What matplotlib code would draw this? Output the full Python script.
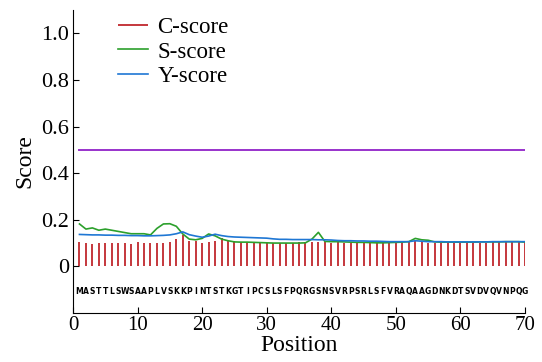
import matplotlib
matplotlib.use("Agg")
import matplotlib.pyplot as plt
import numpy as np

plt.rcParams['font.family'] = ['Liberation Serif', 'DejaVu Serif']

seq = "MASTTLSWSAAPLVSKKPINTSTKGTIPCSLSFPQRGSNSVRPSRLSFVRAQAAGDNKDTSVDVQVNPQG"
pos = np.arange(1, len(seq) + 1)

c_score = [0.105, 0.100, 0.098, 0.100, 0.102, 0.102, 0.102, 0.102, 0.098, 0.103,
           0.100, 0.102, 0.100, 0.102, 0.105, 0.117, 0.135, 0.110, 0.108, 0.100,
           0.105, 0.110, 0.120, 0.110, 0.108, 0.105, 0.105, 0.103, 0.102, 0.102,
           0.100, 0.100, 0.102, 0.102, 0.103, 0.103, 0.105, 0.105, 0.105, 0.102,
           0.105, 0.102, 0.100, 0.100, 0.102, 0.100, 0.100, 0.102, 0.102, 0.102,
           0.105, 0.108, 0.110, 0.105, 0.102, 0.102, 0.102, 0.103, 0.102, 0.102,
           0.103, 0.102, 0.102, 0.102, 0.103, 0.103, 0.103, 0.105, 0.103, 0.103]

s_score = [0.182, 0.160, 0.165, 0.155, 0.160, 0.155, 0.150, 0.145, 0.140, 0.140,
           0.140, 0.135, 0.163, 0.182, 0.183, 0.172, 0.139, 0.117, 0.114, 0.120,
           0.139, 0.131, 0.117, 0.110, 0.105, 0.104, 0.104, 0.103, 0.102, 0.101,
           0.100, 0.100, 0.100, 0.100, 0.100, 0.101, 0.117, 0.146, 0.107, 0.106,
           0.106, 0.105, 0.104, 0.103, 0.103, 0.102, 0.101, 0.101, 0.102, 0.103,
           0.104, 0.106, 0.120, 0.114, 0.112, 0.105, 0.104, 0.104, 0.104, 0.104,
           0.104, 0.104, 0.105, 0.105, 0.105, 0.105, 0.106, 0.106, 0.106, 0.104]

y_score = [0.137, 0.136, 0.135, 0.135, 0.134, 0.134, 0.133, 0.133, 0.132, 0.132,
           0.131, 0.131, 0.132, 0.133, 0.135, 0.140, 0.148, 0.136, 0.130, 0.125,
           0.130, 0.138, 0.132, 0.128, 0.126, 0.125, 0.124, 0.123, 0.122, 0.121,
           0.118, 0.116, 0.116, 0.115, 0.115, 0.115, 0.115, 0.114, 0.114, 0.113,
           0.111, 0.110, 0.110, 0.109, 0.109, 0.108, 0.108, 0.107, 0.106, 0.106,
           0.106, 0.106, 0.110, 0.108, 0.106, 0.106, 0.106, 0.105, 0.105, 0.105,
           0.105, 0.105, 0.105, 0.105, 0.106, 0.106, 0.106, 0.106, 0.106, 0.106]

cutoff = 0.5

fig = plt.figure(figsize=(5.42, 3.62), dpi=100)
ax = fig.add_axes([0.1347, 0.1354, 0.834, 0.837])

ax.vlines(pos, 0, c_score, color='#c0282d', lw=1.3, label='C-score')
ax.plot(pos, s_score, color='#2ca02c', lw=1.2, label='S-score')
ax.plot(pos, y_score, color='#1f77d4', lw=1.2, label='Y-score')
ax.plot([pos[0], pos[-1]], [cutoff, cutoff], color='#9932cc', lw=1.4)

for p, aa in zip(pos, seq):
    ax.text(p, -0.108, aa, ha='center', va='center', fontsize=5.5,
            fontweight='bold', family='DejaVu Sans')

ax.set_xlim(0, 70)
ax.set_ylim(-0.2, 1.1)
ax.set_yticks([0, 0.2, 0.4, 0.6, 0.8, 1.0])
ax.set_yticklabels(['0', '0.2', '0.4', '0.6', '0.8', '1.0'])
ax.set_xticks(range(0, 71, 10))
ax.tick_params(direction='in', labelsize=15, length=4, pad=2)
ax.tick_params(axis='y', labelsize=16, pad=3)
ax.spines['top'].set_visible(False)
ax.spines['right'].set_visible(False)
ax.set_xlabel('Position', fontsize=17, labelpad=0)
ax.set_ylabel('Score', fontsize=17, labelpad=4)

ax.legend(loc='upper left', bbox_to_anchor=(0.055, 1.045), frameon=False,
          fontsize=16.5, handlelength=1.3, labelspacing=0.15, handletextpad=0.4)

fig.savefig('out.png', dpi=100)
